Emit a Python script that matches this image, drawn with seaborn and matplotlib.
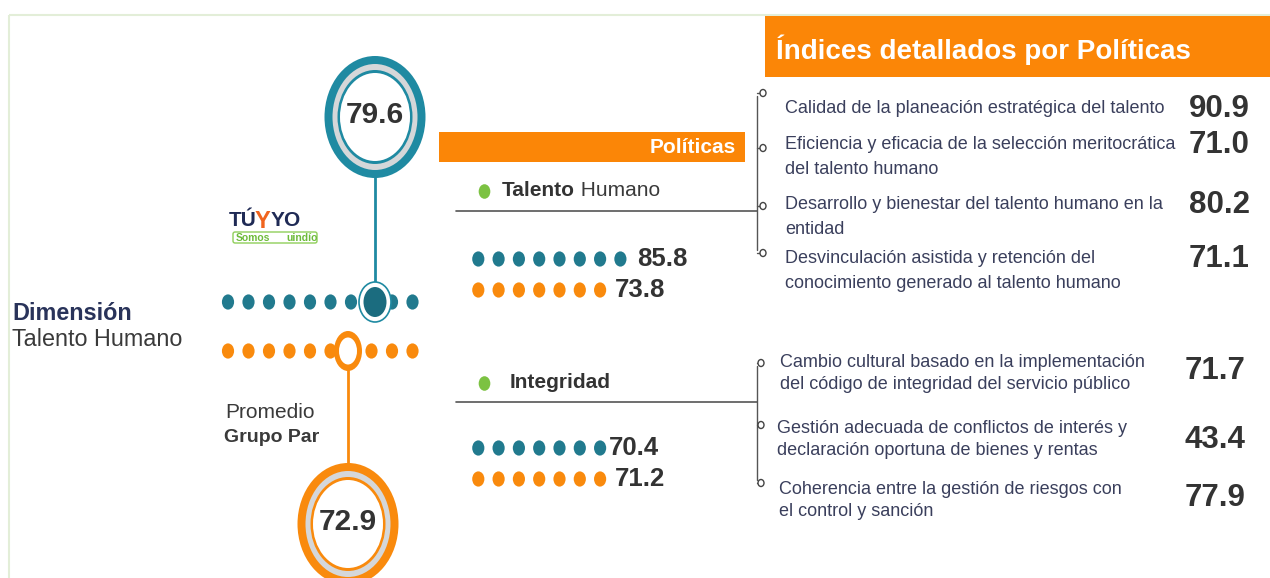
import numpy as np
import pandas as pd
import matplotlib
matplotlib.use("Agg")
import matplotlib.pyplot as plt
import seaborn as sns
from matplotlib.patches import Ellipse, Rectangle, FancyBboxPatch
from matplotlib.path import Path
from matplotlib.transforms import Affine2D

# --- datos ---
dim_entidad = 79.6
dim_grupo = 72.9
politicas = ["Talento Humano", "Integridad"]
pol_entidad = [85.8, 70.4]
pol_grupo = [73.8, 71.2]

talento_items = [
    "Calidad de la planeación estratégica del talento",
    "Eficiencia y eficacia de la selección meritocrática\ndel talento humano",
    "Desarrollo y bienestar del talento humano en la\nentidad",
    "Desvinculación asistida y retención del\nconocimiento generado al talento humano",
]
talento_valores = [90.9, 71.0, 80.2, 71.1]
integridad_items = [
    "Cambio cultural basado en la implementación\ndel código de integridad del servicio público",
    "Gestión adecuada de conflictos de interés y\ndeclaración oportuna de bienes y rentas",
    "Coherencia entre la gestión de riesgos con\nel control y sanción",
]
integridad_valores = [71.7, 43.4, 77.9]

# colores
TEAL = "#217a8e"
RING_TEAL = "#1f8aa2"
DARK_TEAL = "#1b6c7f"
ORANGE = "#f98a0d"
HEADER = "#fb8607"
GRAY_RING = "#d5d7d9"
TXT = "#333333"
ITEM = "#3a3f5c"
NAVY = "#29335a"
GREEN = "#7cc242"
LINE = "#555555"

sns.set_theme(style="white")
plt.rcParams["font.family"] = ["Liberation Sans", "DejaVu Sans"]

fig = plt.figure(figsize=(12.7, 5.78), dpi=100)
ax = fig.add_axes([0, 0, 1, 1])
ax.set_xlim(0, 1270)
ax.set_ylim(578, 0)
ax.axis("off")

# marco
ax.add_patch(Rectangle((9, 15), 1300, 600, fill=False, ec="#e3eed8", lw=1.5))

# marcador elíptico para los puntos
dot = Path.unit_circle().transformed(Affine2D().scale(0.8, 1.0))

# --- filas principales de puntos ---
def main_x(v):
    # escala de la fila principal (posición del marcador según el puntaje)
    return 348 + (v - dim_grupo) * (27.0 / (dim_entidad - dim_grupo))

rows = []
for k in range(10):
    rows.append({"x": 228 + 20.5 * k, "y": 302, "serie": "entidad"})
    rows.append({"x": 228 + 20.5 * k, "y": 351, "serie": "grupo"})

# filas de políticas: un punto por cada decena
pol_y = [(259, 290), (448, 479)]
for i in range(len(politicas)):
    for k in range(int(pol_entidad[i] // 10)):
        rows.append({"x": 478.3 + 20.3 * k, "y": pol_y[i][0], "serie": "entidad"})
    for k in range(int(pol_grupo[i] // 10)):
        rows.append({"x": 478.3 + 20.3 * k, "y": pol_y[i][1], "serie": "grupo"})
dots = pd.DataFrame(rows)
sns.scatterplot(data=dots, x="x", y="y", hue="serie",
                palette={"entidad": TEAL, "grupo": ORANGE},
                marker=dot, s=120, linewidth=0, legend=False, ax=ax, zorder=3)

# líneas verticales
xe, xg = main_x(dim_entidad), main_x(dim_grupo)
ax.plot([xe, xe], [175, 283], color=RING_TEAL, lw=2, zorder=2)
ax.plot([xg, xg], [368, 466], color=ORANGE, lw=2, zorder=2)

# marcador entidad sobre la fila
ax.add_patch(Ellipse((xe, 302), 32, 40, fc="white", ec=RING_TEAL, lw=1.2, zorder=4))
ax.add_patch(Ellipse((xe, 302), 23, 30, fc=DARK_TEAL, ec="none", zorder=5))
# marcador grupo par
ax.add_patch(Ellipse((xg, 351), 28, 40, fc=ORANGE, ec="none", zorder=4))
ax.add_patch(Ellipse((xg, 351), 18, 27, fc="white", ec="none", zorder=5))

# círculos grandes
def ring(cx, cy, col, val):
    for (rx, ry, c) in [(50.5, 61, col), (42.5, 53, GRAY_RING), (37.5, 47, col), (35, 44, "white")]:
        ax.add_patch(Ellipse((cx, cy), 2 * rx, 2 * ry, fc=c, ec="none", zorder=6))
    ax.text(cx, cy - 2, f"{val:.1f}", ha="center", va="center", fontsize=21.5,
            fontweight="bold", color=TXT, zorder=7)

ring(xe, 117, RING_TEAL, dim_entidad)
ring(xg, 524, ORANGE, dim_grupo)

# logo
ax.text(229, 220, "TÚ", color="#1f2a55", fontsize=15, fontweight="heavy", va="center")
ax.text(255, 222, "Y", color="#f0641e", fontsize=17, fontweight="heavy", va="center")
ax.text(271, 220, "YO", color="#1f2a55", fontsize=15, fontweight="heavy", va="center")
ax.add_patch(FancyBboxPatch((233, 232), 84, 11, boxstyle="round,pad=0,rounding_size=2",
                            fc="white", ec="#8fcf5a", lw=1, zorder=2))
ax.text(236, 238, "Somos", color="#6dbb3a", fontsize=7.5, fontweight="bold", va="center", zorder=3)
ax.text(286, 238, "uindío", color="#6dbb3a", fontsize=7.5, fontweight="bold", va="center", zorder=3)

# textos izquierda
ax.text(12, 313, "Dimensión", color=NAVY, fontsize=16.8, fontweight="bold", va="center")
ax.text(12, 340, "Talento Humano", color="#3a3a3a", fontsize=16.8, va="center")
ax.text(225, 412, "Promedio", color="#3a3a3a", fontsize=15, va="center")
ax.text(224, 437, "Grupo Par", color="#3a3a3a", fontsize=14, fontweight="bold", va="center")

# barra Políticas
ax.add_patch(Rectangle((439, 132), 306, 30, fc=HEADER, ec="none"))
ax.text(736, 147.5, "Políticas", color="white", fontsize=15, fontweight="bold", ha="right", va="center")

# encabezado
ax.add_patch(Rectangle((765, 16), 510, 61, fc=HEADER, ec="none"))
ax.text(776, 50, "Índices detallados por Políticas", color="white", fontsize=20,
        fontweight="bold", va="center")

# políticas
head_y = [191, 383]
sep_y = [210.5, 402]
val_off = [17, 15, 9, 15]
for i, nombre in enumerate(politicas):
    ax.scatter([484], [head_y[i]], marker=dot, s=110, color=GREEN, lw=0, zorder=3)
    if i == 0:
        t = ax.text(502, head_y[i], "Talento", color=TXT, fontsize=15, fontweight="bold", va="center")
        ax.annotate(" Humano", xycoords=t, xy=(1, 0.5), va="center", color="#3a3a3a", fontsize=15)
    else:
        ax.text(510, head_y[i], nombre, color=TXT, fontsize=15, fontweight="bold", va="center")
    ax.plot([456, 757], [sep_y[i], sep_y[i]], color=LINE, lw=1.2)
    ne = int(pol_entidad[i] // 10)
    ng = int(pol_grupo[i] // 10)
    ax.text(478.3 + 20.3 * (ne - 1) + val_off[2 * i], pol_y[i][0], f"{pol_entidad[i]:.1f}",
            color=TXT, fontsize=18.5, fontweight="bold", va="center")
    ax.text(478.3 + 20.3 * (ng - 1) + val_off[2 * i + 1], pol_y[i][1], f"{pol_grupo[i]:.1f}",
            color=TXT, fontsize=18.5, fontweight="bold", va="center")

# detalle por políticas
def bracket(circ_y, circ_x):
    top, bot = circ_y[0], circ_y[-1]
    ax.plot([757, 757], [top + 3, bot - 3], color=LINE, lw=1)
    for cy in circ_y:
        ax.plot([757, circ_x - 3], [cy, cy], color=LINE, lw=1)
        ax.add_patch(Ellipse((circ_x, cy), 6, 7, fc="white", ec="#444444", lw=1, zorder=3))

bracket([93, 148, 206, 253], 763)
bracket([363, 425, 483], 761)

talento_y = [107, 143, 203, 257]
for txt, y, v in zip(talento_items, talento_y, talento_valores):
    ax.text(785, y - 7, txt, color=ITEM, fontsize=13, va="top", linespacing=1.58)
    ax.text(1250, y + 2, f"{v:.1f}", color=TXT, fontsize=22.5, fontweight="bold",
            ha="right", va="center")

integ_y = [361, 427, 488]
integ_x = [780, 777, 779]
integ_vy = [371, 440, 498]
for txt, y, x, vy, v in zip(integridad_items, integ_y, integ_x, integ_vy, integridad_valores):
    ax.text(x, y - 7, txt, color=ITEM, fontsize=13, va="top", linespacing=1.42)
    ax.text(1245, vy, f"{v:.1f}", color=TXT, fontsize=22.5, fontweight="bold",
            ha="right", va="center")

fig.savefig("out.png", dpi=100)
